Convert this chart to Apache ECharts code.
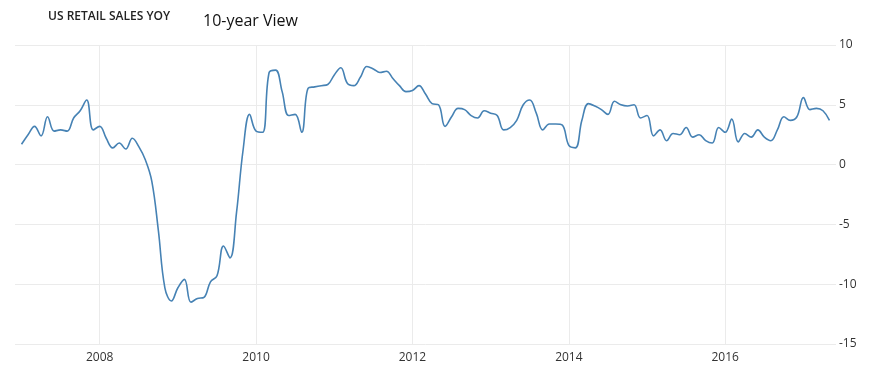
<!DOCTYPE html>
<html>
<head>
<meta charset="utf-8">
<script src="https://cdn.jsdelivr.net/npm/echarts@6/dist/echarts.min.js"></script>
<style>html,body{margin:0;padding:0;background:#fff}#c{width:876px;height:379px}</style>
</head>
<body>
<div id="c"></div>
<script>
// Monthly US retail sales YoY (%), Jan 2007 - May 2017
const years = [2007, 2008, 2009, 2010, 2011, 2012, 2013, 2014, 2015, 2016, 2017];
const v2007 = [1.7, 2.5, 3.2, 2.4, 4.0, 2.8, 2.9, 2.8, 3.9, 4.5, 5.4, 2.9];
const v2008 = [3.2, 2.2, 1.4, 1.8, 1.3, 2.2, 1.5, 0.4, -1.4, -5.5, -10.3, -11.4];
const v2009 = [-10.3, -9.6, -11.5, -11.2, -11.1, -9.8, -9.3, -6.8, -7.8, -4.0, 1.2, 4.2];
const v2010 = [2.8, 2.7, 7.7, 7.9, 6.1, 4.1, 4.2, 2.7, 6.4, 6.5, 6.6, 6.7];
const v2011 = [7.5, 8.1, 6.8, 6.6, 7.3, 8.2, 8.0, 7.7, 7.8, 7.2, 6.6, 6.1];
const v2012 = [6.2, 6.6, 5.9, 5.1, 5.0, 3.2, 4.0, 4.7, 4.6, 4.1, 3.9, 4.5];
const v2013 = [4.3, 4.1, 2.9, 3.1, 3.7, 5.0, 5.4, 4.3, 2.9, 3.4, 3.4, 3.3];
const v2014 = [1.6, 1.4, 3.7, 5.1, 4.9, 4.6, 4.2, 5.3, 5.0, 4.9, 5.0, 3.9];
const v2015 = [4.1, 2.4, 2.9, 2.0, 2.6, 2.5, 3.1, 2.3, 2.5, 2.0, 1.8, 3.1];
const v2016 = [2.7, 3.8, 1.9, 2.6, 2.3, 2.9, 2.3, 2.0, 2.9, 4.0, 3.7, 4.0];
const v2017 = [5.6, 4.6, 4.7, 4.5, 3.7];
const yearValues = [v2007, v2008, v2009, v2010, v2011, v2012, v2013, v2014, v2015, v2016, v2017];
const yTicks = [-15, -10, -5, 0, 5, 10];
const labelYears = [2008, 2010, 2012, 2014, 2016];

function pad(m) { return (m < 10 ? '0' : '') + m; }
// axis categories: one month before the first point and one after the last
const categories = ['2006-12'];
const seriesData = [];
years.forEach((y, yi) => {
  yearValues[yi].forEach((v, mi) => {
    const key = y + '-' + pad(mi + 1);
    categories.push(key);
    seriesData.push([key, v]);
  });
});
categories.push('2017-06');

const isLabelTick = (idx, val) => {
  const parts = String(val).split('-');
  return parts[1] === '01' && labelYears.indexOf(+parts[0]) >= 0;
};

const chart = echarts.init(document.getElementById('c'), null, { renderer: 'canvas' });
chart.setOption({
  animation: false,
  backgroundColor: '#ffffff',
  textStyle: { fontFamily: 'Open Sans' },
  title: [
    { text: 'US RETAIL SALES YOY', left: 43, top: 6,
      textStyle: { fontSize: 12, fontWeight: 600, color: '#222', fontFamily: 'Open Sans' } },
    { text: '10-year View', left: 198, top: 8,
      textStyle: { fontSize: 16, fontWeight: 'normal', color: '#111', fontFamily: 'Open Sans' } }
  ],
  grid: { left: 15, right: 40, top: 45, bottom: 35, containLabel: false },
  xAxis: {
    type: 'category',
    data: categories,
    boundaryGap: false,
    axisLine: { show: false },
    axisTick: { show: false },
    axisLabel: {
      interval: isLabelTick,
      formatter: (val) => String(val).split('-')[0],
      color: '#333', fontSize: 12, margin: 8, fontFamily: 'Open Sans'
    },
    splitLine: { show: true, interval: isLabelTick, lineStyle: { color: '#ebebeb', width: 1 } }
  },
  yAxis: {
    type: 'value',
    position: 'right',
    min: yTicks[0],
    max: yTicks[yTicks.length - 1],
    interval: 5,
    axisLine: { show: false },
    axisTick: { show: false },
    axisLabel: { color: '#333', fontSize: 12, margin: 3, fontFamily: 'Open Sans' },
    splitLine: { show: true, lineStyle: { color: '#ebebeb', width: 1 } }
  },
  series: [{
    type: 'line',
    data: seriesData,
    smooth: 0.4,
    showSymbol: false,
    symbol: 'none',
    lineStyle: { color: '#4682b4', width: 1.6 },
    itemStyle: { color: '#4682b4' }
  }]
});
</script>
</body>
</html>
